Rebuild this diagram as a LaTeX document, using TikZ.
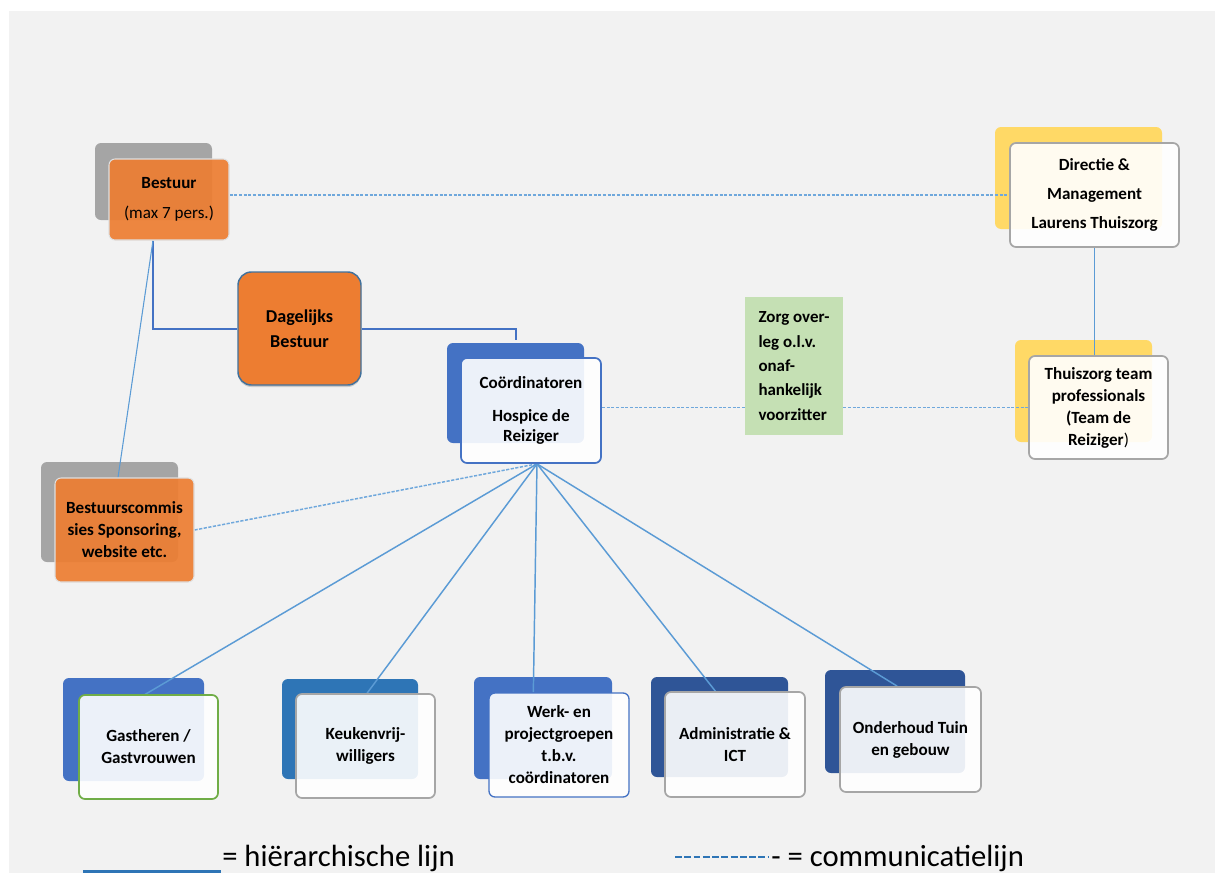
\documentclass[tikz,border=0pt]{standalone}
\usepackage{fontspec}
\setmainfont{Carlito}
\usetikzlibrary{calc,shadows}
\definecolor{bgc}{HTML}{F2F2F2}
\definecolor{orng}{HTML}{ED7D31}
\definecolor{greyb}{HTML}{A5A5A5}
\definecolor{blueb}{HTML}{4472C4}
\definecolor{blueb2}{HTML}{2E75B6}
\definecolor{dblue}{HTML}{2F5597}
\definecolor{yell}{HTML}{FFD966}
\definecolor{grn}{HTML}{C5E0B4}
\definecolor{lblue}{HTML}{5B9BD5}
\definecolor{cblue}{HTML}{6FA8DC}
\definecolor{gborder}{HTML}{A6A6A6}
\definecolor{gr2}{HTML}{70AD47}
\definecolor{dagb}{HTML}{41719C}
\pgfdeclarelayer{bgl}
\pgfdeclarelayer{backs}
\pgfdeclarelayer{lines}
\pgfsetlayers{bgl,backs,lines,main}
\tikzset{
  backbox/.style={rounded corners=4.5pt,inner sep=0pt},
  txt/.style={font=\fontsize{12.8}{16.5}\selectfont\bfseries,align=center,text=black,inner sep=0pt},
  wfront/.style={txt,rounded corners=4.5pt,fill=white,fill opacity=0.9,text opacity=1,line width=1.3pt},
  ofront/.style={txt,rounded corners=4.5pt,fill=orng,fill opacity=0.92,text opacity=1,draw=white!75!gray,line width=0.8pt},
  hier/.style={draw=blueb,line width=1.5pt},
  thinl/.style={draw=lblue,line width=0.8pt},
  fanl/.style={draw=lblue,line width=1.1pt},
  comm/.style={draw=cblue,line width=1.1pt,dash pattern=on 2.4pt off 1.1pt},
}
\begin{document}
\begin{tikzpicture}[x=0.75pt,y=-0.75pt]
\begin{pgfonlayer}{bgl}
\fill[white] (0,0) rectangle (1215,873);
\fill[bgc] (9,11) rectangle (1215,873);
\end{pgfonlayer}

% front boxes
\node[ofront,minimum width=90pt,minimum height=60.75pt] (bestF) at (169,199.5) {Bestuur\\[6pt]\mdseries (max 7 pers.)};
\node[txt,rounded corners=10pt,fill=orng,draw=dagb,line width=1.1pt,minimum width=92.25pt,minimum height=84.75pt,
  font=\fontsize{13.6}{19}\selectfont\bfseries,
  drop shadow={shadow xshift=0pt,shadow yshift=-1.5pt,opacity=0.35}] (dag) at (299.5,328.5) {Dagelijks\\Bestuur};
\node[wfront,draw=blueb,minimum width=105pt,minimum height=78.75pt,font=\fontsize{12.8}{15}\selectfont\bfseries] (coordF) at (531,410.5) {Coördinatoren\\[9.5pt]Hospice de\\Reiziger};
\node[txt,fill=grn,minimum width=73.5pt,minimum height=103.5pt,align=left,
  font=\fontsize{12.7}{18.3}\selectfont\bfseries] (zorg) at (794,366) {Zorg over-\\leg o.l.v.\\onaf-\\hankelijk\\voorzitter};
\node[wfront,draw=gborder,minimum width=126.75pt,minimum height=78pt] (dirF) at (1094.5,195) {Directie \&\\[5.5pt]Management\\[5.5pt]Laurens Thuiszorg};
\node[wfront,draw=gborder,minimum width=104.25pt,minimum height=77.25pt] (thF) at (1098.5,407.5) {Thuiszorg team\\professionals\\(Team de\\Reiziger\mdseries)};
\node[ofront,minimum width=104.25pt,minimum height=78pt] (bcF) at (124.5,530) {Bestuurscommis\\sies Sponsoring,\\website etc.};
\node[wfront,draw=gr2,minimum width=104.25pt,minimum height=78pt] (gastF) at (148.5,747) {Gastheren /\\Gastvrouwen};
\node[wfront,draw=gborder,minimum width=104.25pt,minimum height=78pt] (keukF) at (365.5,746) {Keukenvrij-\\willigers};
\node[wfront,draw=blueb,line width=1pt,minimum width=105pt,minimum height=78pt] (werkF) at (559,745) {Werk- en\\projectgroepen\\t.b.v.\\coördinatoren};
\node[wfront,draw=gborder,minimum width=105pt,minimum height=78.75pt] (admF) at (735,744.5) {Administratie \&\\ICT};
\node[wfront,draw=gborder,minimum width=105.75pt,minimum height=78.75pt] (ondF) at (910.5,739.5) {Onderhoud Tuin\\en gebouw};

% back boxes
\begin{pgfonlayer}{backs}
\node[backbox,fill=greyb,minimum width=87.75pt,minimum height=57.75pt] (bestB) at (153.5,181.5) {};
\node[backbox,fill=blueb,minimum width=102.75pt,minimum height=75pt] (coordB) at (515.5,393) {};
\node[backbox,fill=yell,minimum width=125.25pt,minimum height=76.5pt] (dirB) at (1078.5,178) {};
\node[backbox,fill=yell,minimum width=102.75pt,minimum height=76.5pt] (thB) at (1083.5,391) {};
\node[backbox,fill=greyb,minimum width=102.75pt,minimum height=75pt] (bcB) at (109.5,512) {};
\node[backbox,fill=blueb,minimum width=105.75pt,minimum height=77.25pt] (gastB) at (133.5,729.5) {};
\node[backbox,fill=blueb2,minimum width=102pt,minimum height=75pt] (keukB) at (350,729) {};
\node[backbox,fill=blueb,minimum width=103.5pt,minimum height=76.5pt] (werkB) at (543,728) {};
\node[backbox,fill=dblue,minimum width=102.75pt,minimum height=75pt] (admB) at (719.5,727) {};
\node[backbox,fill=dblue,minimum width=105pt,minimum height=77.25pt] (ondB) at (895,721.5) {};
\end{pgfonlayer}

% connectors
\begin{pgfonlayer}{lines}
\coordinate (bfoot) at ($(bestF.south)+(-16,0)$);
\coordinate (fan) at ($(coordF.south)+(6,0)$);
\draw[hier] (bfoot) |- (dag.west);
\draw[hier] (dag.east) -| ($(coordB.north)+(0,-3)$);
\draw[thinl] (bfoot) -- ($(bcF.north)+(-6.5,0)$);
\draw[comm] (bestF.east |- dirF.west) -- (dirF.west);
\draw[comm] (coordF.east |- thF.west) -- (zorg.west |- thF.west);
\draw[comm] (zorg.east |- thF.west) -- (thF.west);
\draw[comm] (bcF.east) -- (fan);
\draw[thinl] (dirF.south) -- (dirF.south |- thF.north);
\draw[fanl] (fan) -- ($(gastF.north west)+(64,2)$);
\draw[fanl] (fan) -- ($(keukF.north west)+(72,0)$);
\draw[fanl] (fan) -- ($(werkF.north west)+(45,0)$);
\draw[fanl] (fan) -- ($(admF.north west)+(52,1)$);
\draw[fanl] (fan) -- ($(ondF.north west)+(58,0)$);
\end{pgfonlayer}

% legend
\coordinate (l1a) at (83,871.5);
\coordinate (l1b) at (221,871.5);
\draw[draw=blueb2,line width=2.4pt] (l1a) -- (l1b);
\node[anchor=base west,inner sep=0pt,font=\fontsize{23}{23}\selectfont] (leg1) at (222,866) {= hiërarchische lijn};
\coordinate (l2a) at (675,857);
\coordinate (l2b) at (768,857);
\draw[draw=blueb2,line width=1.6pt,dash pattern=on 5.2pt off 1.75pt] (l2a) -- (l2b);
\node[anchor=base west,inner sep=0pt,font=\fontsize{23}{23}\selectfont] (leg2) at (771,866) {- = communicatielijn};
\end{tikzpicture}
\end{document}
